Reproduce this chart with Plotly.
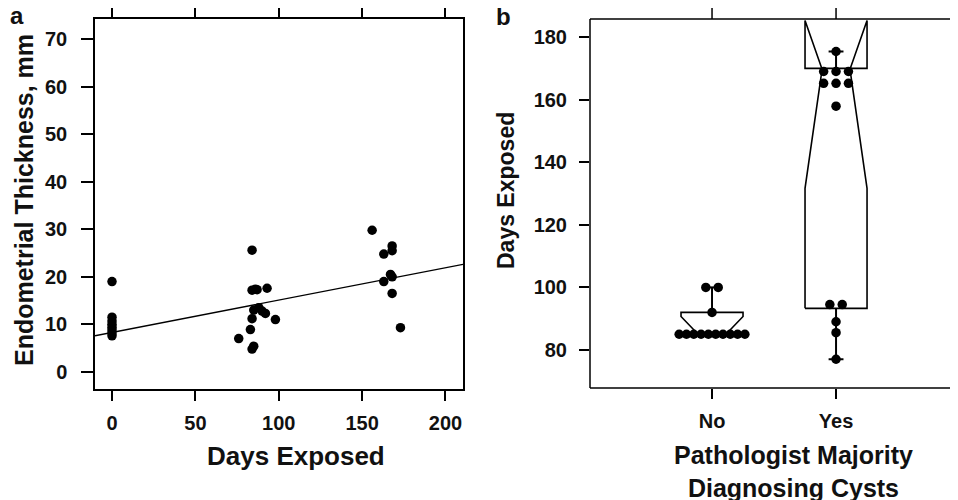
import plotly.graph_objects as go

W, H = 958, 500
OFF = 8  # the page body adds an 8px margin around the figure

# panel a: endometrial thickness against days exposed
days_a = [0, 0, 0, 0, 0, 0, 0, 0,
          76, 83, 84, 84, 84, 84, 85, 85, 86, 87, 88, 90, 92, 93, 98,
          156, 163, 163, 167, 168, 168, 168, 168, 173]
thick_a = [19.0, 11.5, 10.7, 10.0, 9.4, 8.8, 8.2, 7.6,
           7.0, 8.9, 25.6, 17.2, 11.2, 4.8, 13.0, 5.4, 17.4, 17.3, 13.5, 12.8, 12.3, 17.6, 11.0,
           29.8, 24.8, 19.0, 20.5, 26.5, 25.5, 20.0, 16.5, 9.3]
fit_intercept = 8.3
fit_slope = 0.068
xticks_a = [0, 50, 100, 150, 200]
yticks_a = [0, 10, 20, 30, 40, 50, 60, 70]

# panel b: days exposed by pathologist majority diagnosis
groups = ["No", "Yes"]
group_pos = [1, 2]
days_no = [85, 85, 85, 85, 85, 85, 85, 85, 85, 85, 92, 100, 100]
days_yes = [77, 85.5, 89, 94.5, 94.5, 158, 165.3, 165.3, 165.3, 169.1, 169.1, 169.1, 175.5]
# box stats: q1, median, q3, notch low, notch high, whisker low, whisker high
stats_no = dict(q1=85, med=85, q3=92, clo=85, chi=90.7, wlo=85, whi=100)
stats_yes = dict(q1=93.3, med=169.8, q3=170.1, clo=131.7, chi=185.4, wlo=77, whi=175.5)
yticks_b = [80, 100, 120, 140, 160, 180]

bold = dict(family="Liberation Sans, Arial, sans-serif", color="#111111", weight="bold")


def px_x(p):
    return (p - OFF) / W


def px_y(p):
    return 1 - (p - OFF) / H


def swarm(values, step=0.1, max_span=0.53):
    # spread tied values side by side, centred on the group
    offs = []
    seen = {}
    for v in values:
        k = values.count(v)
        i = seen.get(v, 0)
        seen[v] = i + 1
        s = step if k < 2 else min(step, max_span / (k - 1))
        offs.append((i - (k - 1) / 2) * s)
    return offs


def notched_box(pos, st, hw=0.25, nw=0.45):
    xs = [pos - hw, pos + hw, pos + hw, pos + hw * nw, pos + hw, pos + hw,
          pos - hw, pos - hw, pos - hw * nw, pos - hw, pos - hw]
    ys = [st["q1"], st["q1"], st["clo"], st["med"], st["chi"], st["q3"],
          st["q3"], st["chi"], st["med"], st["clo"], st["q1"]]
    return xs, ys


fig = go.Figure()

fig.add_trace(go.Scatter(x=[-10.2, 210.5],
                         y=[fit_intercept + fit_slope * -10.2, fit_intercept + fit_slope * 210.5],
                         mode="lines", line=dict(color="black", width=1.3),
                         xaxis="x", yaxis="y", showlegend=False))
fig.add_trace(go.Scatter(x=days_a, y=thick_a, mode="markers",
                         marker=dict(color="black", size=9.5),
                         xaxis="x", yaxis="y", showlegend=False))

for pos, st, vals in [(group_pos[0], stats_no, days_no), (group_pos[1], stats_yes, days_yes)]:
    bx, by = notched_box(pos, st)
    fig.add_trace(go.Scatter(x=bx, y=by, mode="lines", line=dict(color="black", width=1.6),
                             xaxis="x2", yaxis="y2", showlegend=False))
    wx, wy = [], []
    if st["whi"] > st["q3"]:
        wx += [pos, pos, None, pos - 0.06, pos + 0.06, None]
        wy += [st["q3"], st["whi"], None, st["whi"], st["whi"], None]
    if st["wlo"] < st["q1"]:
        wx += [pos, pos, None, pos - 0.06, pos + 0.06, None]
        wy += [st["q1"], st["wlo"], None, st["wlo"], st["wlo"], None]
    fig.add_trace(go.Scatter(x=wx, y=wy, mode="lines", line=dict(color="black", width=2),
                             xaxis="x2", yaxis="y2", showlegend=False))
    fig.add_trace(go.Scatter(x=[pos + o for o in swarm(vals)], y=vals, mode="markers",
                             marker=dict(color="black", size=9.5),
                             xaxis="x2", yaxis="y2", showlegend=False))

axis_common = dict(showgrid=False, zeroline=False, linecolor="black",
                   linewidth=1.5, ticks="outside", tickcolor="black", tickwidth=1.5,
                   tickfont=dict(size=20, **bold))

fig.update_layout(
    width=W, height=H, margin=dict(l=0, r=0, t=0, b=0),
    plot_bgcolor="white", paper_bgcolor="white",
    xaxis=dict(domain=[px_x(95), px_x(463)], range=[-10.2, 210.5], tickvals=xticks_a, showline=True,
               ticklen=10, mirror="ticks", anchor="y", ticklabelstandoff=5, **axis_common),
    yaxis=dict(domain=[px_y(389), px_y(19)], range=[-3.6, 74.25], tickvals=yticks_a, showline=True,
               ticklen=12, mirror=True, anchor="x", ticklabelstandoff=10, **axis_common),
    xaxis2=dict(domain=[px_x(590), 1.0], range=[0.016, 3.048], tickvals=group_pos, ticktext=groups,
                showline=False, ticklen=10, anchor="y2", ticklabelstandoff=5,
                **axis_common),
    yaxis2=dict(domain=[px_y(388), px_y(19)], range=[67.8, 185.9], tickvals=yticks_b,
                showline=False, ticklen=10, anchor="x2", ticklabelstandoff=8,
                **axis_common),
)

# panel b frame: left, top and bottom only (the right side runs off the picture)
for x0, y0, x1, y1 in [(0, 0, 0, 1), (0, 1, 1, 1), (0, 0, 1, 0)]:
    fig.add_shape(type="line", xref="x2 domain", yref="y2 domain", x0=x0, y0=y0, x1=x1, y1=y1,
                  line=dict(color="black", width=1.5))
# top ticks of panel b at the category positions
for p in group_pos:
    fig.add_shape(type="line", xref="x2", yref="y2 domain", x0=p, x1=p, y0=1, y1=1 + 11 / 369,
                  line=dict(color="black", width=1.5))

ann = [
    dict(text="a", x=17, y=15, size=24),
    dict(text="b", x=503, y=16, size=24),
    dict(text="Days Exposed", x=296, y=456, size=26),
    dict(text="Endometrial Thickness, mm", x=24, y=200, size=25, angle=-90),
    dict(text="Days Exposed", x=506, y=190, size=23, angle=-90),
    dict(text="Pathologist Majority<br>Diagnosing Cysts", x=793, y=471, size=25),
]
for a in ann:
    fig.add_annotation(text=a["text"], x=px_x(a["x"]), y=px_y(a["y"]), xref="paper", yref="paper",
                       xanchor="center", yanchor="middle", showarrow=False,
                       textangle=a.get("angle", 0),
                       font=dict(size=a["size"], **bold))

fig.write_html("out.html")
